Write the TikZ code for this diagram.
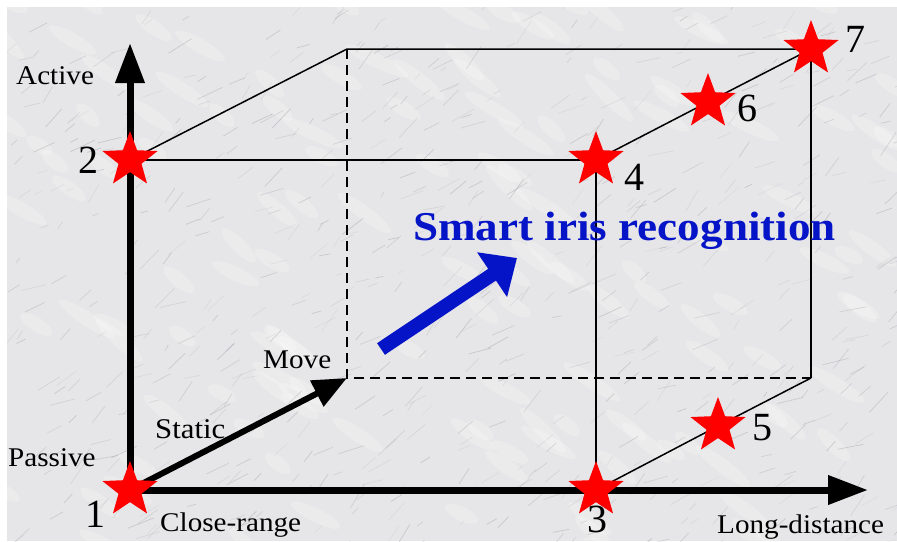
\documentclass[tikz,border=0pt]{standalone}
\usepackage{fontspec}
\setmainfont{Liberation Serif}
\usetikzlibrary{arrows.meta,shapes.geometric}
\definecolor{marble}{RGB}{230,230,232}
\definecolor{vein}{RGB}{155,155,162}
\definecolor{titleblue}{RGB}{6,20,200}
\tikzset{
  word/.style={font=\fontsize{27}{27}\selectfont, xscale=1.08, inner sep=0pt, anchor=base west},
  digit/.style={font=\fontsize{40}{40}\selectfont, inner sep=0pt, anchor=base},
  starnode/.style={star, star points=5, star point ratio=2.4, fill=red, draw=none, minimum size=58pt, inner sep=0pt},
  cube/.style={line width=1.5pt, black},
  hidden/.style={cube, dash pattern=on 10pt off 6pt},
  axis/.style={line width=7pt, line join=miter, {Triangle[length=40pt,width=28pt]}-{Triangle[length=40pt,width=28pt]}},
  staticarrow/.style={line width=6pt, -{Triangle[length=34pt,width=28pt]}},
  bluearrow/.style={line width=14pt, titleblue, -{Triangle[length=30pt,width=52pt]}},
}
\begin{document}
\begin{tikzpicture}[x=1pt,y=-1pt]
\useasboundingbox (0,0) rectangle (897,541);
% marble background
\fill[marble] (7,7) rectangle (897,541);
\begin{scope}
\clip (7,7) rectangle (897,541);
\pgfmathsetseed{11}
\foreach \i in {1,...,140}{
  \pgfmathsetmacro{\xa}{rnd*900}
  \pgfmathsetmacro{\ya}{rnd*560}
  \pgfmathsetmacro{\dl}{30+rnd*40}
  \pgfmathsetmacro{\an}{25+rnd*20}
  \fill[white, opacity=0.2] (\xa,\ya) ellipse [x radius=\dl*0.5, y radius=7, rotate=-\an];
}
\foreach \i in {1,...,650}{
  \pgfmathsetmacro{\xa}{rnd*900}
  \pgfmathsetmacro{\ya}{rnd*560}
  \pgfmathsetmacro{\dl}{6+rnd*22}
  \pgfmathsetmacro{\an}{10+rnd*50}
  \pgfmathsetmacro{\op}{0.12+rnd*0.3}
  \draw[vein, line width=0.7pt, opacity=\op] (\xa,\ya) -- ++({\dl*cos(\an)},{-\dl*sin(\an)});
}
\end{scope}
% positions
\coordinate (p1) at (130,490);
\coordinate (p2) at (130,160);
\coordinate (p3) at (596,490);
\coordinate (p4) at (596,160);
\coordinate (p5) at (718,426);
\coordinate (p6) at (708,102);
\coordinate (p7) at (811,49);
\coordinate (b) at (347,49);
\coordinate (m) at (347,378);
\coordinate (r) at (811,378);
\coordinate (ytip) at (130,43);
\coordinate (xtip) at (868,490);
\coordinate (bt) at (381,349);
\coordinate (bh) at (517,258);
% cube
\draw[hidden] (b) -- (m) -- (r);
\draw[cube] (p2) -- (p4);
\draw[cube] (p2) -- (b) -- (p7);
\draw[cube] (p7) -- (r);
\draw[cube] (p4) -- (p6) -- (p7);
\draw[cube] (p4) -- (p3);
\draw[cube] (p3) -- (p5) -- (r);
% axes
\draw[axis] (ytip) -- (p1) -- (xtip);
\draw[staticarrow] (p1) -- (m);
\draw[bluearrow] (bt) -- (bh);
% stars
\foreach \k in {1,...,7}{ \node[starnode] (s\k) at (p\k) {}; }
% digits
\node[digit] (n1) at (95,527) {1};
\node[digit] (n2) at (88,173) {2};
\node[digit] (n3) at (597,532) {3};
\node[digit] (n4) at (634,190) {4};
\node[digit] (n5) at (762,440) {5};
\node[digit] (n6) at (747,121) {6};
\node[digit] (n7) at (855,52) {7};
% words
\node[word] (active) at (16,84) {Active};
\node[word] (passive) at (8,466) {Passive};
\node[word, font=\fontsize{28.5}{28.5}\selectfont, xscale=1] (static) at (155,438) {Static};
\node[word] (move) at (263,368) {Move};
\node[word] (close) at (160,531) {Close-range};
\node[word] (long) at (717,533) {Long-distance};
\node[font=\fontsize{41}{41}\selectfont\bfseries, text=titleblue, xscale=1.1, inner sep=0pt, anchor=base west] (title) at (413,240) {Smart iris recognition};
\end{tikzpicture}
\end{document}
